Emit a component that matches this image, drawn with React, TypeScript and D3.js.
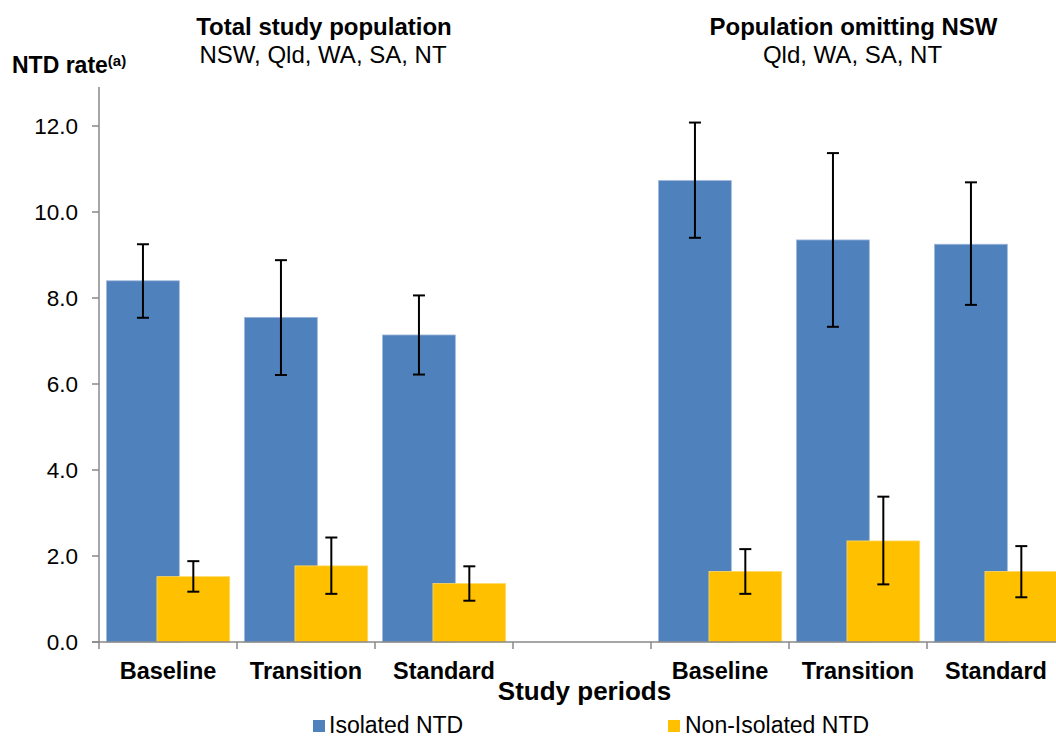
import React from "react";
import * as d3 from "d3";

const slots = ["Baseline", "Transition", "Standard", "", "Baseline2", "Transition2", "Standard2"];
const slotLabels = ["Baseline", "Transition", "Standard", "", "Baseline", "Transition", "Standard"];
const barSlots = ["Baseline", "Transition", "Standard", "Baseline2", "Transition2", "Standard2"];
const isolated = [8.40, 7.55, 7.14, 10.73, 9.35, 9.25];
const isolatedLow = [7.54, 6.21, 6.22, 9.40, 7.33, 7.84];
const isolatedHigh = [9.25, 8.88, 8.06, 12.08, 11.37, 10.69];
const nonIsolated = [1.52, 1.77, 1.36, 1.64, 2.35, 1.64];
const nonIsolatedLow = [1.17, 1.12, 0.96, 1.12, 1.34, 1.04];
const nonIsolatedHigh = [1.88, 2.43, 1.76, 2.16, 3.38, 2.23];
const yTicks = [0, 2, 4, 6, 8, 10, 12];

const FONT = "'Liberation Sans', Arial, sans-serif";
const BLUE = "#4F81BD";
const YELLOW = "#FFC000";
const AXIS = "#898989";

export default function App() {
  const W = 1056, H = 738;
  const x = d3.scaleBand<string>().domain(slots).range([99, 1065]).paddingInner(0).paddingOuter(0);
  const y = d3.scaleLinear().domain([0, 12]).range([642, 126]);
  const bw = x.bandwidth();
  const barW = bw * 0.527;
  const blueOff = bw * 0.055;
  const yellowOff = bw * 0.42;
  const cap = 6;

  const errBar = (cx: number, lo: number, hi: number, key: string) => (
    <g key={key} stroke="#000" strokeWidth={2}>
      <line x1={cx} x2={cx} y1={y(lo)} y2={y(hi)} />
      <line x1={cx - cap} x2={cx + cap} y1={y(lo)} y2={y(lo)} />
      <line x1={cx - cap} x2={cx + cap} y1={y(hi)} y2={y(hi)} />
    </g>
  );

  return (
    <svg width={W} height={H} style={{ position: "absolute", left: 0, top: 0, display: "block" }} fontFamily={FONT}>
      <rect width={W} height={H} fill="#fff" />
      {/* titles */}
      <text x={324} y={35} textAnchor="middle" fontSize={24} fontWeight="bold">Total study population</text>
      <text x={323} y={63} textAnchor="middle" fontSize={24}>NSW, Qld, WA, SA, NT</text>
      <text x={853.5} y={35} textAnchor="middle" fontSize={24} fontWeight="bold">Population omitting NSW</text>
      <text x={852.5} y={63} textAnchor="middle" fontSize={24}>Qld, WA, SA, NT</text>
      <text x={12} y={73} fontSize={23} fontWeight="bold">NTD rate<tspan fontSize={15} dy={-7}>(a)</tspan></text>

      {/* bars */}
      {barSlots.map((s, i) => {
        const x0 = x(s)!;
        return (
          <g key={s}>
            <rect x={x0 + blueOff} y={y(isolated[i])} width={barW} height={y(0) - y(isolated[i])} fill={BLUE} stroke="#9DB5DA" strokeWidth={0.8} />
            <rect x={x0 + yellowOff} y={y(nonIsolated[i])} width={barW} height={y(0) - y(nonIsolated[i])} fill={YELLOW} stroke="#FFD966" strokeWidth={0.8} />
            {errBar(x0 + blueOff + barW / 2, isolatedLow[i], isolatedHigh[i], s + "e1")}
            {errBar(x0 + yellowOff + barW / 2, nonIsolatedLow[i], nonIsolatedHigh[i], s + "e2")}
          </g>
        );
      })}

      {/* y axis */}
      <line x1={99} x2={99} y1={87} y2={y(0)} stroke={AXIS} strokeWidth={1.5} />
      {yTicks.map((t) => (
        <g key={t}>
          <line x1={92} x2={99} y1={y(t)} y2={y(t)} stroke={AXIS} strokeWidth={1.5} />
          <text x={78} y={y(t)} dy="0.36em" textAnchor="end" fontSize={22.5}>{t.toFixed(1)}</text>
        </g>
      ))}

      {/* x axis */}
      <line x1={92} x2={1065} y1={y(0)} y2={y(0)} stroke={AXIS} strokeWidth={1.5} />
      {slots.map((s) => (
        <line key={"t" + s} x1={x(s)!} x2={x(s)!} y1={y(0)} y2={y(0) + 7} stroke={AXIS} strokeWidth={1.5} />
      ))}
      {slots.map((s, i) => (
        <text key={"l" + s} x={x(s)! + bw / 2} y={679} textAnchor="middle" fontSize={23.5} fontWeight="bold">{slotLabels[i]}</text>
      ))}
      <text x={584.5} y={700} textAnchor="middle" fontSize={26} fontWeight="bold">Study periods</text>

      {/* legend */}
      <rect x={313} y={720} width={12} height={12} fill={BLUE} />
      <text x={329} y={733} fontSize={23}>Isolated NTD</text>
      <rect x={668} y={720} width={12} height={12} fill={YELLOW} />
      <text x={685} y={733} fontSize={23}>Non-Isolated NTD</text>
    </svg>
  );
}
